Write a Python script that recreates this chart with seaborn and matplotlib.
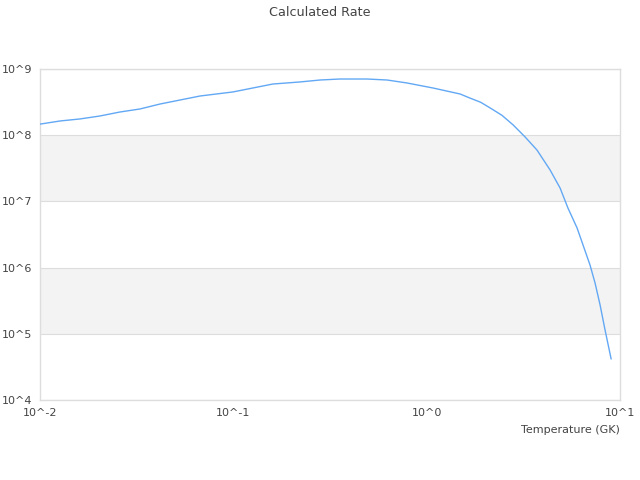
import matplotlib
matplotlib.use("Agg")
import matplotlib.pyplot as plt
import seaborn as sns
import numpy as np
import pandas as pd

# Temperature (GK) and rate
temperature = [0.0100, 0.0127, 0.0161, 0.0204, 0.0259, 0.0329, 0.0418, 0.0530,
               0.0673, 0.0995, 0.160, 0.221, 0.281, 0.356, 0.491, 0.624, 0.791,
               1.08, 1.49, 1.67, 1.90, 2.13, 2.45, 2.80, 3.23, 3.72, 4.35, 4.90,
               5.38, 6.00, 7.00, 7.43, 7.89, 8.37, 9.00]
rate = [1.47e8, 1.64e8, 1.76e8, 1.95e8, 2.24e8, 2.49e8, 2.96e8, 3.40e8,
        3.91e8, 4.50e8, 5.93e8, 6.37e8, 6.82e8, 7.06e8, 7.06e8, 6.82e8, 6.15e8,
        5.16e8, 4.19e8, 3.65e8, 3.15e8, 2.58e8, 2.00e8, 1.43e8, 9.40e7, 5.97e7,
        2.98e7, 1.59e7, 7.94e6, 3.96e6, 1.09e6, 5.85e5, 2.72e5, 1.14e5, 4.16e4]

x_ticks = [0.01, 0.1, 1, 10]
x_tick_labels = ["10^-2", "10^-1", "10^0", "10^1"]
y_ticks = [1e4, 1e5, 1e6, 1e7, 1e8, 1e9]
y_tick_labels = ["10^4", "10^5", "10^6", "10^7", "10^8", "10^9"]

df = pd.DataFrame({"T": temperature, "rate": rate})

sns.set_theme(style="white")
plt.rcParams['font.family'] = ['DejaVu Sans']

fig = plt.figure(figsize=(6.4, 4.8), dpi=100)
ax = fig.add_axes([40/640, 1-400/480, 580/640, 331/480])

# alternating bands
for lo, hi in [(1e5, 1e6), (1e7, 1e8)]:
    ax.axhspan(lo, hi, color="#f3f3f3", zorder=0, lw=0)

sns.lineplot(data=df, x="T", y="rate", ax=ax, color="#62a8f4", linewidth=1.0,
             zorder=3)

ax.set_xscale("log")
ax.set_yscale("log")
ax.set_xlim(0.01, 10)
ax.set_ylim(1e4, 1e9)
ax.set_xticks(x_ticks)
ax.set_xticklabels(x_tick_labels)
ax.set_yticks(y_ticks)
ax.set_yticklabels(y_tick_labels)
ax.minorticks_off()
ax.tick_params(axis="both", length=0, labelsize=8, labelcolor="#444444")
ax.tick_params(axis="x", pad=6)
ax.tick_params(axis="y", pad=5.5)
ax.grid(axis="y", color="#dddddd", linewidth=0.8, zorder=1)
ax.set_axisbelow(True)
for s in ax.spines.values():
    s.set_color("#dddddd")
    s.set_linewidth(1.0)

ax.set_ylabel("")
ax.set_xlabel("Temperature (GK)", fontsize=8, color="#444444")
ax.xaxis.set_label_coords(1.0, -0.075)
ax.xaxis.label.set_horizontalalignment("right")

fig.text(0.5, 1-12/480, "Calculated Rate", ha="center", va="center",
         fontsize=9.2, color="#444444")

fig.savefig("out.png", dpi=100)
